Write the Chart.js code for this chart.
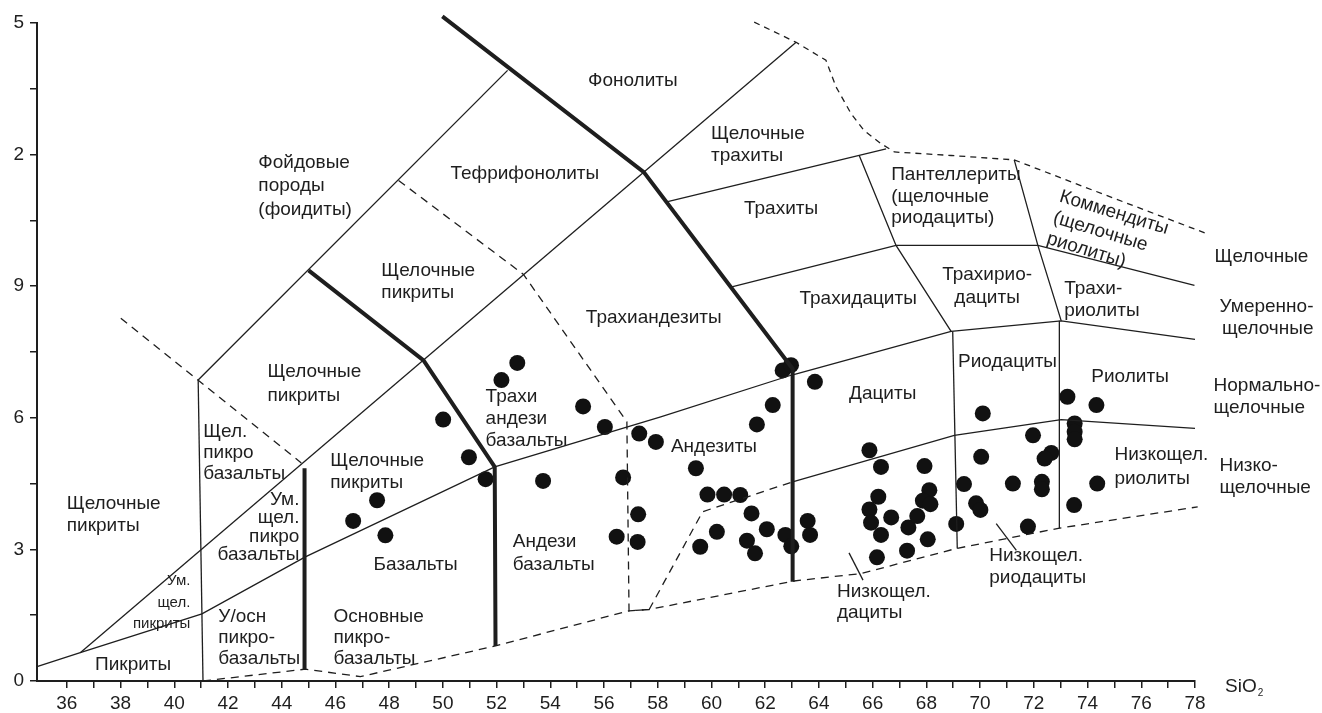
<!DOCTYPE html>
<html>
<head>
<meta charset="utf-8">
<script src="https://cdn.jsdelivr.net/npm/chart.js@4.4.0/dist/chart.umd.min.js"></script>
<style>
  html, body { margin: 0; padding: 0; background: #fff; }
  canvas { display: block; }
</style>
</head>
<body>
<canvas id="tas" width="1322" height="713"></canvas>
<script>
// sample analyses (SiO2, Na2O+K2O)
const sampleSiO2 = [52.77, 52.18, 50.01, 55.22, 56.03, 50.97, 57.31, 57.93, 51.59, 53.73, 56.71,
  47.55, 46.66, 47.86, 57.27, 56.47, 57.25, 62.65, 62.96, 63.85, 62.28, 61.69, 59.42, 65.88,
  66.31, 67.93, 70.10, 70.04, 59.85, 60.47, 61.07, 61.49, 60.20, 59.58, 62.06, 61.32, 61.62,
  62.75, 62.97, 63.58, 63.67, 66.21, 65.88, 65.94, 66.31, 66.69, 67.33, 67.66, 68.11, 67.87,
  68.15, 66.16, 67.28, 68.05, 69.40, 69.85, 70.01, 69.11, 73.25, 74.33, 71.97, 73.52, 73.52,
  73.52, 72.65, 72.40, 71.22, 72.30, 72.30, 74.36, 73.50, 71.78];
const sampleAlk = [7.25, 6.86, 5.96, 6.26, 5.79, 5.10, 5.64, 5.45, 4.60, 4.56, 4.64,
  4.12, 3.65, 3.32, 3.80, 3.29, 3.17, 7.08, 7.20, 6.82, 6.29, 5.85, 4.85, 5.26,
  4.88, 4.90, 6.10, 5.11, 4.25, 4.25, 4.24, 3.82, 3.40, 3.06, 3.46, 3.20, 2.91,
  3.33, 3.07, 3.65, 3.33, 4.20, 3.91, 3.61, 3.33, 3.73, 3.50, 3.76, 4.35, 4.11,
  4.03, 2.82, 2.97, 3.23, 4.49, 4.05, 3.90, 3.58, 6.48, 6.29, 5.60, 5.87, 5.68,
  5.51, 5.20, 5.07, 4.50, 4.54, 4.37, 4.50, 4.01, 3.52];

// axis ticks
const xTickValues = [36, 37, 38, 39, 40, 41, 42, 43, 44, 45, 46, 47, 48, 49, 50, 51, 52, 53, 54,
  55, 56, 57, 58, 59, 60, 61, 62, 63, 64, 65, 66, 67, 68, 69, 70, 71, 72, 73, 74, 75, 76, 77, 78];
const yTickValues = [0, 1.5, 3, 4.5, 6, 7.5, 9, 10.5, 12, 13.5, 15];
const yTickLabels = ['0', '', '3', '', '6', '', '9', '', '2', '', '5'];

// field boundaries
const alkalineBorder = [[34.89, 0.33], [36.50, 0.645], [41.03, 1.53], [44.88, 2.83], [51.93, 4.88],
  [58.11, 6.02], [62.96, 6.97], [68.92, 7.97], [73.02, 8.21], [78.0, 7.79]];
const lowAlkBorder = [[63.02, 4.54], [69.04, 5.60], [73.02, 5.96], [78.0, 5.76]];
const lowAlkDash = [[57.68, 1.63], [59.67, 3.86], [63.02, 4.54]];
const line41 = [[40.89, 6.86], [41.07, 0]];
const foiditeEdge = [[40.89, 6.86], [52.41, 13.92]];
const picriteDash = [[38.01, 8.27], [44.73, 4.97]];
const mainDiagonal = [[36.50, 0.645], [63.15, 14.56]];
const thickPhonolite = [[49.98, 15.15], [57.48, 11.60], [63.02, 7.12], [63.02, 2.26]];
const thickPicrite = [[45.0, 9.36], [49.28, 7.31], [51.93, 4.88], [51.96, 0.80]];
const thick45 = [[44.85, 4.85], [44.85, 0.27]];
const tephriDash = [[48.35, 11.41], [53.0, 9.27], [56.85, 5.91], [56.93, 1.60], [57.68, 1.63]];
const bottomDash = [[41.07, 0], [44.88, 0.27], [46.93, 0.10], [51.96, 0.80], [56.93, 1.60],
  [57.68, 1.63], [63.07, 2.28], [65.57, 2.45], [69.11, 3.02], [72.91, 3.48], [78.1, 3.97]];
const topDash = [[61.59, 15.02], [63.15, 14.56], [64.26, 14.15], [64.64, 13.54], [65.2, 12.93],
  [65.68, 12.55], [66.31, 12.25], [66.81, 12.06], [68.92, 11.98], [71.27, 11.88], [73.89, 11.26], [78.43, 10.2]];
const trachyteTop = [[58.33, 10.92], [66.5, 12.13]];
const pantelleriteLeft = [[65.5, 11.98], [66.87, 9.93], [68.92, 7.97]];
const comenditeLeft = [[71.27, 11.88], [72.15, 9.93], [73.02, 8.21]];
const trachydaciteTop = [[60.72, 8.98], [66.87, 9.93], [72.15, 9.93], [77.98, 9.02]];
const daciteRight = [[68.98, 7.97], [69.15, 3.02]];
const rhyodaciteRight = [[72.95, 8.21], [72.95, 3.48]];
const pointerDacite = [[65.12, 2.92], [65.64, 2.30]];
const pointerRhyodacite = [[70.6, 3.59], [71.35, 2.98]];

const THIN = { w: 1.3, dash: [] };
const THICK = { w: 4, dash: [] };
const DASH = { w: 1.3, dash: [8, 6] };
const boundaries = [
  [alkalineBorder, THIN], [lowAlkBorder, THIN], [lowAlkDash, DASH], [line41, THIN],
  [foiditeEdge, THIN], [picriteDash, DASH], [mainDiagonal, THIN], [thickPhonolite, THICK],
  [thickPicrite, THICK], [thick45, THICK], [tephriDash, DASH], [bottomDash, DASH],
  [topDash, { w: 1.3, dash: [6, 5] }], [trachyteTop, THIN], [pantelleriteLeft, THIN],
  [comenditeLeft, THIN], [trachydaciteTop, THIN], [daciteRight, THIN], [rhyodaciteRight, THIN],
  [pointerDacite, THIN], [pointerRhyodacite, THIN]
];

// field names, anchored in data units
const fieldLabels = [
  { t: ['Фонолиты'], x: 57.07, y: 13.69, a: 'center' },
  { t: ['Тефрифонолиты'], x: 53.05, y: 11.57, a: 'center' },
  { t: ['Щелочные', 'трахиты'], x: 59.98, y: 12.48 },
  { t: ['Трахиты'], x: 62.59, y: 10.77, a: 'center' },
  { t: ['Фойдовые', 'породы', '(фоидиты)'], x: 43.13, y: 11.82, lh: 23.5 },
  { t: ['Щелочные', 'пикриты'], x: 47.71, y: 9.36 },
  { t: ['Трахиандезиты'], x: 57.85, y: 8.27, a: 'center' },
  { t: ['Пантеллериты', '(щелочные', 'риодациты)'], x: 66.69, y: 11.53, lh: 21.5 },
  { t: ['Коммендиты', '(щелочные', 'риолиты)'], x: 72.98, y: 11.05, rot: 17 },
  { t: ['Трахидациты'], x: 65.46, y: 8.72, a: 'center' },
  { t: ['Трахирио-', 'дациты'], x: 70.26, y: 9.25, a: 'center', lh: 23 },
  { t: ['Трахи-', 'риолиты'], x: 73.13, y: 8.95 },
  { t: ['Щелочные'], x: 78.73, y: 9.66 },
  { t: ['Умеренно-', 'щелочные'], x: 82.41, y: 8.53, a: 'right' },
  { t: ['Нормально-', 'щелочные'], x: 78.69, y: 6.74 },
  { t: ['Низко-', 'щелочные'], x: 78.91, y: 4.90 },
  { t: ['Низкощел.', 'риолиты'], x: 75.0, y: 5.15, lh: 24 },
  { t: ['Риолиты'], x: 74.14, y: 6.93 },
  { t: ['Риодациты'], x: 69.18, y: 7.27 },
  { t: ['Дациты'], x: 65.12, y: 6.54 },
  { t: ['Андезиты'], x: 58.49, y: 5.33 },
  { t: ['Трахи', 'андези', 'базальты'], x: 51.59, y: 6.47, lh: 21.7 },
  { t: ['Щелочные', 'пикриты'], x: 43.47, y: 7.04, lh: 24 },
  { t: ['Щелочные', 'пикриты'], x: 45.81, y: 5.01 },
  { t: ['Базальты'], x: 47.42, y: 2.64 },
  { t: ['Андези', 'базальты'], x: 52.60, y: 3.17, lh: 23 },
  { t: ['Основные', 'пикро-', 'базальты'], x: 45.93, y: 1.47, lh: 21 },
  { t: ['У/осн', 'пикро-', 'базальты'], x: 41.64, y: 1.46, lh: 21 },
  { t: ['Пикриты'], x: 38.47, y: 0.36, a: 'center' },
  { t: ['Ум.', 'щел.', 'пикриты'], x: 40.60, y: 2.28, a: 'right', size: 15, lh: 21.5 },
  { t: ['Ум.', 'щел.', 'пикро', 'базальты'], x: 44.66, y: 4.14, a: 'right', lh: 18.6 },
  { t: ['Щел.', 'пикро', 'базальты'], x: 41.08, y: 5.68, lh: 20.8 },
  { t: ['Щелочные', 'пикриты'], x: 36.0, y: 4.03 },
  { t: ['Низкощел.', 'дациты'], x: 64.67, y: 2.03, lh: 21 },
  { t: ['Низкощел.', 'риодациты'], x: 70.34, y: 2.85, lh: 22 }
];

const FONT = '"Liberation Sans", Arial, sans-serif';
const INK = '#1e1e1e';

const labelPlugin = {
  id: 'fieldLabels',
  afterDatasetsDraw(chart) {
    const { ctx, scales: { x, y } } = chart;
    ctx.save();
    ctx.fillStyle = INK;
    ctx.textBaseline = 'middle';
    fieldLabels.forEach(l => {
      ctx.save();
      ctx.translate(x.getPixelForValue(l.x), y.getPixelForValue(l.y));
      if (l.rot) ctx.rotate(l.rot * Math.PI / 180);
      ctx.font = (l.size || 19) + 'px ' + FONT;
      ctx.textAlign = l.a || 'left';
      l.t.forEach((s, i) => ctx.fillText(s, 0, i * (l.lh || 22)));
      ctx.restore();
    });
    // axis name
    const ax = x.right + 30, ay = x.top + 6;
    ctx.textAlign = 'left';
    ctx.font = '19px ' + FONT;
    ctx.fillText('SiO', ax, ay);
    const w = ctx.measureText('SiO').width;
    ctx.font = '10px ' + FONT;
    ctx.fillText('2', ax + w + 1, ay + 6);
    ctx.restore();
  }
};

const datasets = boundaries.map(([pts, st]) => ({
  data: pts.map(([x, y]) => ({ x, y })),
  showLine: true,
  pointRadius: 0,
  borderColor: INK,
  borderWidth: st.w,
  borderDash: st.dash,
  borderCapStyle: 'butt',
  fill: false,
  tension: 0,
  clip: false
}));
datasets.push({
  data: sampleSiO2.map((v, i) => ({ x: v, y: sampleAlk[i] })),
  pointRadius: 8,
  pointBackgroundColor: '#111',
  pointBorderWidth: 0,
  showLine: false,
  clip: false
});

new Chart(document.getElementById('tas'), {
  type: 'scatter',
  data: { datasets },
  options: {
    responsive: false,
    animation: false,
    devicePixelRatio: 1,
    events: [],
    layout: { padding: { left: 0, right: 127, top: 23, bottom: 0 } },
    plugins: { legend: { display: false }, tooltip: { enabled: false } },
    scales: {
      x: {
        type: 'linear',
        min: 34.89,
        max: 78,
        afterBuildTicks: s => { s.ticks = xTickValues.map(v => ({ value: v })); },
        afterFit: s => { s.height = 32; },
        grid: { display: true, drawOnChartArea: false, drawTicks: true, tickLength: 7, color: INK, lineWidth: 1.5 },
        border: { display: true, color: INK, width: 2 },
        ticks: {
          autoSkip: false,
          maxRotation: 0,
          padding: 4,
          color: INK,
          font: { family: FONT, size: 19 },
          callback: v => (v % 2 === 0 ? String(v) : '')
        }
      },
      y: {
        type: 'linear',
        min: 0,
        max: 15,
        afterBuildTicks: s => { s.ticks = yTickValues.map(v => ({ value: v })); },
        afterFit: s => { s.width = 37; },
        grid: { display: true, drawOnChartArea: false, drawTicks: true, tickLength: 7, color: INK, lineWidth: 1.5 },
        border: { display: true, color: INK, width: 2 },
        ticks: {
          autoSkip: false,
          padding: 6,
          color: INK,
          font: { family: FONT, size: 19 },
          callback: (v, i) => yTickLabels[i]
        }
      }
    }
  },
  plugins: [labelPlugin]
});
</script>
</body>
</html>
